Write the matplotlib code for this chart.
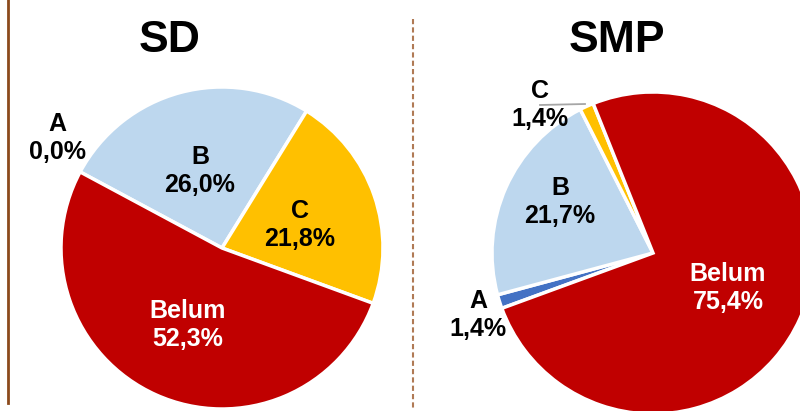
"""Two pie charts (SD / SMP) side by side, A/B/C/Belum shares."""

import matplotlib
matplotlib.use("Agg")
import matplotlib.pyplot as plt

plt.rcParams["font.family"] = ["Liberation Sans", "DejaVu Sans"]

categories = ["A", "B", "C", "Belum"]
sd_values = [0.0, 26.0, 21.8, 52.3]
smp_values = [1.4, 21.7, 1.4, 75.4]
colors = ["#4472C4", "#BDD7EE", "#FFC000", "#C00000"]
text_colors = ["black", "black", "black", "white"]

W, H = 800, 411


def fmt(cat, val):
    return f"{cat}\n{val:.1f}%".replace(".", ",")


fig = plt.figure(figsize=(8, 4.11), dpi=100)
ax = fig.add_axes([0, 0, 1, 1])

# SD pie (pixel layout, y measured from top)
ax.pie(sd_values, center=(222, H - 248), radius=161, startangle=151.8,
       counterclock=False, colors=colors,
       wedgeprops=dict(edgecolor="white", linewidth=2.5))
sd_label_pos = [(57, 138), (200, 171), (300, 225), (188, 325)]
for cat, val, (x, y), tc in zip(categories, sd_values, sd_label_pos, text_colors):
    ax.text(x, H - y, fmt(cat, val), ha="center", va="center", fontsize=18,
            fontweight="bold", color=tc, linespacing=1.2)

# SMP pie
ax.pie(smp_values, center=(653, H - 253), radius=161, startangle=200.1,
       counterclock=False, colors=colors,
       wedgeprops=dict(edgecolor="white", linewidth=2.5))
smp_label_pos = [(478, 315), (560, 202), (540, 105), (728, 288)]
for cat, val, (x, y), tc in zip(categories, smp_values, smp_label_pos, text_colors):
    ax.text(x, H - y, fmt(cat, val), ha="center", va="center", fontsize=18,
            fontweight="bold", color=tc, linespacing=1.2)
# leader line for the small C slice
ax.plot([540, 585], [H - 105, H - 104], color="#A6A6A6", linewidth=1.3)

# titles
ax.text(170, H - 41, "SD", ha="center", va="center", fontsize=32, fontweight="bold")
ax.text(617, H - 41, "SMP", ha="center", va="center", fontsize=32, fontweight="bold")

# frame lines
ax.plot([8, 8], [H, H - 403], color="#8B4A1C", linewidth=2)
ax.plot([413, 413], [H - 19, H - 409], color="#B07A55", linewidth=1.5,
        linestyle=(0, (2.5, 1.5)))

ax.set_xlim(0, W)
ax.set_ylim(0, H)
ax.set_aspect("equal")
ax.axis("off")

fig.savefig("out.png", dpi=100)
